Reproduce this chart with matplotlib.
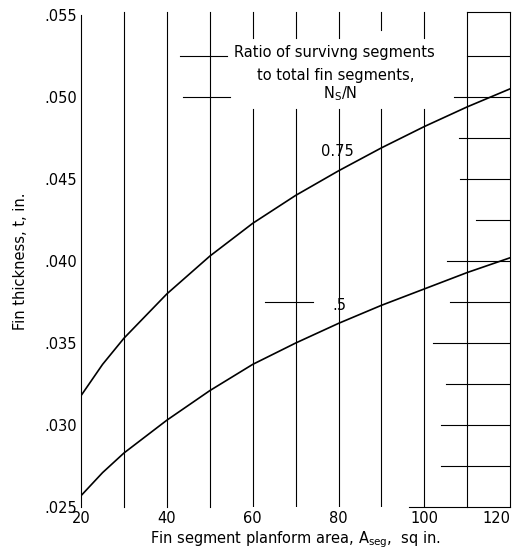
import numpy as np
import matplotlib.pyplot as plt

plt.rcParams['font.family'] = ['Liberation Sans Narrow', 'DejaVu Sans']

# curves: fin thickness vs segment planform area
area = [20, 25, 30, 40, 50, 60, 70, 80, 90, 100, 110, 120]
t_075 = [0.0318, 0.0337, 0.0353, 0.0380, 0.0403, 0.0423, 0.0440, 0.0455, 0.0469, 0.0482, 0.0494, 0.0505]
t_050 = [0.0257, 0.0271, 0.0283, 0.0303, 0.0321, 0.0337, 0.0350, 0.0362, 0.0373, 0.0383, 0.0393, 0.0402]

x_ticks = [20, 40, 60, 80, 100, 120]
y_ticks = [0.025, 0.030, 0.035, 0.040, 0.045, 0.050, 0.055]
y_ticklabels = ['.025', '.030', '.035', '.040', '.045', '.050', '.055']

# grid of the original drawing (partial lines)
full_vlines = [30, 40, 50, 110, 120]
gapped_vlines = [60, 70, 80, 90, 100]
right_hlines = [(0.0525, 110), (0.050, 107), (0.0475, 108), (0.045, 108.4), (0.0425, 112),
                (0.040, 105.3), (0.0375, 106), (0.035, 102), (0.0325, 105), (0.030, 104), (0.0275, 104)]
other_hlines = [(0.0525, 43, 54), (0.050, 43.7, 54.7), (0.0375, 62.8, 74)]

fig = plt.figure(figsize=(5.2, 5.56), dpi=100)
ax = fig.add_axes([0.156, 0.088, 0.825, 0.885])
ax.set_xlim(20, 120)
ax.set_ylim(0.025, 0.055)

gc = 'black'
glw = 0.8
for x in full_vlines:
    ax.plot([x, x], [0.025, 0.0552], color=gc, lw=glw, clip_on=False)
for x in gapped_vlines:
    top_gap = 0.0541 if x == 90 else 0.0536
    ax.plot([x, x], [top_gap, 0.0552], color=gc, lw=glw, clip_on=False)
    ax.plot([x, x], [0.025, 0.0493], color=gc, lw=glw)
for y, x0 in right_hlines:
    ax.plot([x0, 120], [y, y], color=gc, lw=glw)
for y, x0, x1 in other_hlines:
    ax.plot([x0, x1], [y, y], color=gc, lw=glw)
ax.plot([110, 120], [0.0552, 0.0552], color=gc, lw=glw, clip_on=False)
ax.plot([96.5, 120], [0.025, 0.025], color=gc, lw=glw, clip_on=False)

ax.plot(area, t_075, color='black', lw=1.2)
ax.plot(area, t_050, color='black', lw=1.2)

ax.text(79.8, 0.0467, '0.75', ha='center', va='center', fontsize=10.5)
ax.text(80.1, 0.0373, '.5', ha='center', va='center', fontsize=10.5)
ax.text(79.0, 0.0527, 'Ratio of survivng segments', ha='center', va='center', fontsize=10.5)
ax.text(79.3, 0.0513, 'to total fin segments,', ha='center', va='center', fontsize=10.5)
ax.text(80.3, 0.0502, r'$\mathregular{N_S/N}$', ha='center', va='center', fontsize=10.5)

for s in ['top', 'bottom', 'right']:
    ax.spines[s].set_visible(False)
ax.spines['left'].set_linewidth(glw)
ax.set_xticks(x_ticks)
ax.set_yticks(y_ticks)
ax.set_yticklabels(y_ticklabels)
ax.tick_params(length=0, labelsize=10.5, pad=3)
ax.get_xticklabels()[-1].set_horizontalalignment('right')
ax.set_xlabel(r'Fin segment planform area, A$_{\mathregular{seg}}$,  sq in.', fontsize=10.5, labelpad=2)
ax.set_ylabel('Fin thickness, t, in.', fontsize=10.5, labelpad=12)

fig.savefig('out.png', dpi=100)
